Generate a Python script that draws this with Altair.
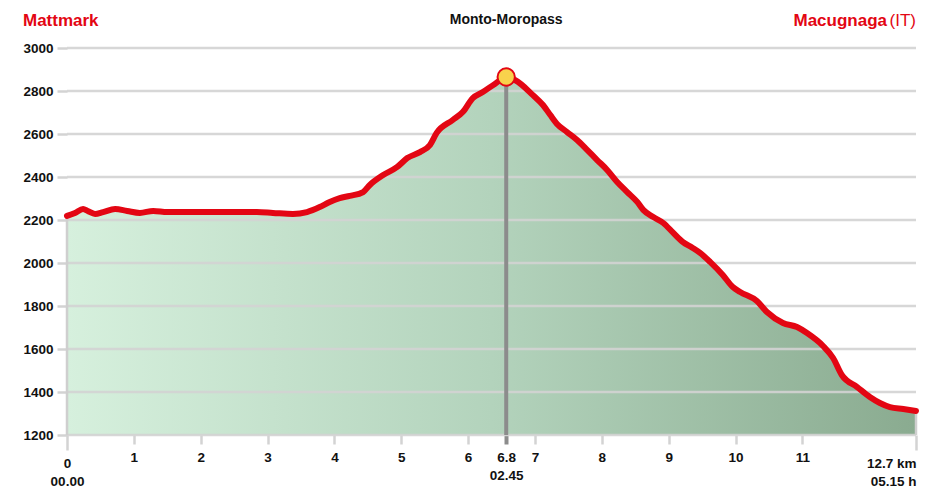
import altair as alt
import pandas as pd

# ---- profile data (distance km, elevation m) ----
km = [0.0, 0.12, 0.24, 0.31, 0.42, 0.54, 0.72, 0.90, 1.09, 1.29, 1.50, 1.88, 2.39, 2.84,
      3.08, 3.38, 3.59, 3.78, 3.93, 4.08, 4.23, 4.43, 4.53, 4.73, 4.94, 5.09, 5.28, 5.43,
      5.53, 5.77, 5.92, 6.07, 6.22, 6.40, 6.57, 6.70, 6.97, 7.12, 7.23, 7.33, 7.48, 7.63,
      7.78, 7.93, 8.08, 8.23, 8.38, 8.53, 8.62, 8.77, 8.92, 9.07, 9.21, 9.36, 9.47, 9.62,
      9.81, 9.96, 10.07, 10.32, 10.47, 10.71, 10.92, 11.07, 11.31, 11.46, 11.59, 11.82,
      12.01, 12.16, 12.31, 12.51, 12.70]
elev = [2219, 2233, 2251, 2242, 2228, 2237, 2251, 2242, 2233, 2242, 2237, 2237, 2237, 2237,
        2233, 2228, 2237, 2260, 2284, 2302, 2312, 2330, 2363, 2409, 2447, 2488, 2516, 2549,
        2605, 2665, 2702, 2767, 2795, 2833, 2865, 2851, 2781, 2735, 2688, 2647, 2609, 2572,
        2526, 2479, 2433, 2377, 2330, 2284, 2247, 2214, 2186, 2140, 2098, 2070, 2047, 2005,
        1944, 1888, 1865, 1823, 1772, 1721, 1702, 1674, 1614, 1558, 1479, 1423,
        1377, 1349, 1330, 1321, 1312]

y_ticks = [1200, 1400, 1600, 1800, 2000, 2200, 2400, 2600, 2800, 3000]
x_ticks = [0, 1, 2, 3, 4, 5, 6, 7, 8, 9, 10, 11]

pass_km = 6.57          # position of the pass marker on the axis
pass_elev = 2865
pass_tick_label = "6.8"
end_km = 12.7
end_tick_label = "12.7 km"
time_labels = ["00.00", "02.45", "05.15 h"]   # start, pass, end

start_name = "Mattmark"
pass_name = "Monto-Moropass"
end_name = "Macugnaga"
end_country = "(IT)"

FONT = "Liberation Sans"
RED = "#e30613"
GRID = "#d3d3d3"

profile = pd.DataFrame({"km": km, "elev": elev})

# ---- x axis labels (two lines: distance / time) ----
label_map = [(0, ["0", time_labels[0]]), (pass_km, [pass_tick_label, time_labels[1]]),
             (end_km, [end_tick_label, time_labels[2]])]
expr = ""
for v, lines in label_map:
    expr += f"datum.value == {v} ? {lines!r} : "
expr += "format(datum.value, 'd')"
x_values = x_ticks + [pass_km, end_km]

edge_test = f"datum.value == 0 || datum.value == {end_km}"
pass_test = f"datum.value == {pass_km}"

x_axis = alt.Axis(
    values=x_values, labelExpr=expr, grid=False, domain=False, title=None,
    tickColor={"condition": {"test": pass_test, "value": "#8c8c8c"}, "value": GRID},
    tickWidth={"condition": {"test": pass_test, "value": 4}, "value": 2.5},
    tickSize={"condition": {"test": edge_test, "value": 15}, "value": 9},
    labelAlign={"condition": {"test": f"datum.value == {end_km}", "value": "right"}, "value": "center"},
    labelFont=FONT, labelFontWeight="bold", labelFontSize=13.5, labelColor="#111111",
    labelLineHeight=18, labelPadding=6, labelOverlap=False, labelFlush=False,
)
y_axis = alt.Axis(
    values=y_ticks, format="d", grid=False, domain=False, title=None,
    tickColor=GRID, tickWidth=2.5, tickSize=10,
    labelFont=FONT, labelFontWeight="bold", labelFontSize=13.5, labelColor="#111111",
    labelPadding=4,
)

xs = alt.Scale(domain=[0, end_km], nice=False, zero=False)
ys = alt.Scale(domain=[y_ticks[0], y_ticks[-1]], nice=False, zero=False)

gradient = alt.Gradient(
    gradient="linear", x1=0, x2=1, y1=0, y2=0,
    stops=[alt.GradientStop(color="#d6f0dd", offset=0),
           alt.GradientStop(color="#b3d3bc", offset=0.5),
           alt.GradientStop(color="#8aab90", offset=1)],
)

X = alt.X("km:Q", scale=xs, title=None)
Y = alt.Y("elev:Q", scale=ys, title=None)

area = alt.Chart(profile).mark_area(color=gradient, interpolate="monotone").encode(
    x=alt.X("km:Q", scale=xs, axis=x_axis),
    y=alt.Y("elev:Q", scale=ys, axis=y_axis),
    y2=alt.datum(y_ticks[0]),
)

grid = alt.Chart(pd.DataFrame({"elev": y_ticks})).mark_rule(
    color=GRID, strokeWidth=2.5, opacity=0.9
).encode(
    y=Y, x=alt.datum(0), x2=alt.datum(end_km),
)

edges = alt.Chart(pd.DataFrame({"km": [km[0], km[-1]], "elev": [elev[0], elev[-1]]})).mark_rule(
    color="#cfcfcf", strokeWidth=2.5
).encode(x=X, y=Y, y2=alt.datum(y_ticks[0]))

pass_df = pd.DataFrame({"km": [pass_km], "elev": [pass_elev]})
pass_rule = alt.Chart(pass_df).mark_rule(color="#8c8c8c", strokeWidth=4).encode(
    x=X, y=Y, y2=alt.datum(y_ticks[0]),
)

line = alt.Chart(profile).mark_line(
    color=RED, strokeWidth=6, interpolate="monotone", strokeCap="round", strokeJoin="round"
).encode(x=X, y=Y)

peak = alt.Chart(pass_df).mark_point(
    shape="circle", filled=True, fill="#f8d24c", stroke=RED, strokeWidth=2, size=300, opacity=1
).encode(x=X, y=Y)


def label(k, text, align, color, weight, size, dx=0, dy=-22):
    return alt.Chart(pd.DataFrame({"km": [k], "t": [text]})).mark_text(
        align=align, baseline="alphabetic", color=color, fontWeight=weight,
        fontSize=size, font=FONT, dx=dx
    ).encode(
        x=X,
        y=alt.value(dy),
        text="t:N",
    )


t_start = label(0, start_name, "left", RED, "bold", 17, dx=-44)
t_pass = label(pass_km, pass_name, "center", "#111111", "bold", 14, dy=-24)
t_end_c = label(end_km, end_country, "right", RED, "normal", 17)
t_end = label(end_km, end_name, "right", RED, "bold", 17, dx=-29)

chart = alt.layer(
    area, grid, edges, pass_rule, line, peak, t_start, t_pass, t_end, t_end_c
).properties(
    width=849, height=387,
    padding={"left": 59, "top": 40, "right": 7, "bottom": 53},
    autosize=alt.AutoSizeParams(type="none"),
).configure_view(stroke=None)

chart.save("out.html", embed_options={"renderer": "svg", "actions": False})
